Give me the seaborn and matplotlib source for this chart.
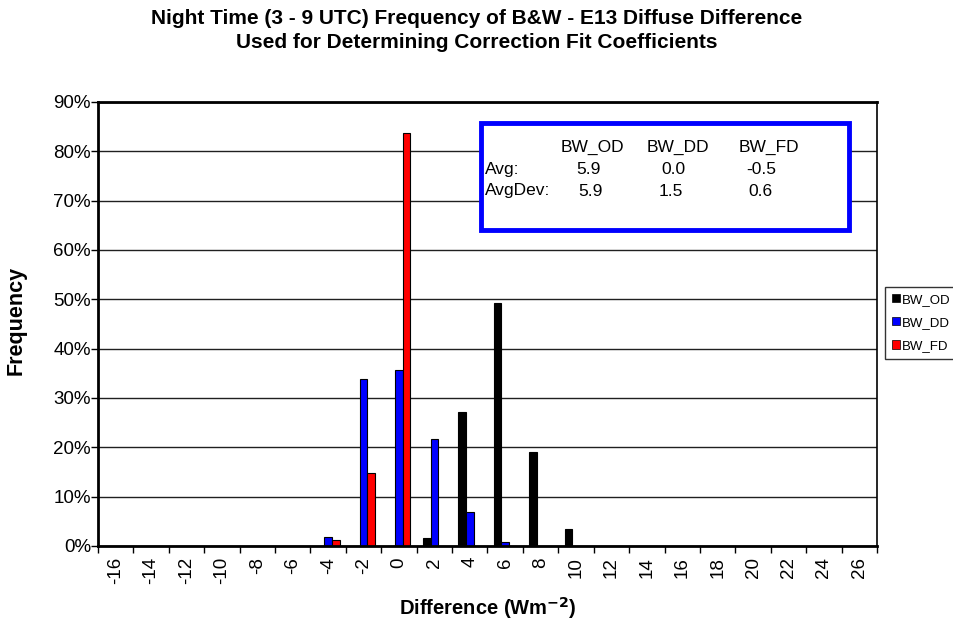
import matplotlib
matplotlib.use("Agg")
import matplotlib.pyplot as plt
import seaborn as sns
import pandas as pd
import numpy as np
from matplotlib.patches import Patch, Rectangle
from matplotlib.ticker import PercentFormatter, FixedLocator

categories = [str(v) for v in range(-16, 27, 2)]
bw_od = [0, 0, 0, 0, 0, 0, 0, 0, 0, 1.7, 27.1, 49.2, 19.0, 3.4, 0, 0, 0, 0, 0, 0, 0, 0]
bw_dd = [0, 0, 0, 0, 0, 0, 1.9, 33.9, 35.6, 21.6, 6.8, 0.8, 0, 0, 0, 0, 0, 0, 0, 0, 0, 0]
bw_fd = [0, 0, 0, 0, 0, 0, 1.2, 14.7, 83.8, 0, 0, 0, 0, 0, 0, 0, 0, 0, 0, 0, 0, 0]
series_names = ["BW_OD", "BW_DD", "BW_FD"]
colors = ["#000000", "#0000FF", "#FF0000"]
stats_rows = [("Avg:", "5.9", "0.0", "-0.5"), ("AvgDev:", "5.9", "1.5", "0.6")]

sns.set_theme(style="white")
plt.rcParams["font.family"] = ["Liberation Sans", "DejaVu Sans"]
for k in ["text.color", "axes.labelcolor", "xtick.color", "ytick.color"]:
    plt.rcParams[k] = "black"

df = pd.DataFrame({
    "Difference": categories * 3,
    "Frequency": bw_od + bw_dd + bw_fd,
    "Series": sum([[n] * len(categories) for n in series_names], []),
})

fig = plt.figure(figsize=(9.54, 6.30), dpi=100)
ax = fig.add_axes([98 / 954, 1 - 546 / 630, (877 - 98) / 954, (546 - 102) / 630])

sns.barplot(data=df, x="Difference", y="Frequency", hue="Series", order=categories,
            hue_order=series_names, palette=colors, width=0.65, edgecolor="black",
            linewidth=0.8, ax=ax, legend=False, saturation=1)

ax.set_xlim(-0.5, len(categories) - 0.5)
ax.set_ylim(0, 90)
ax.yaxis.set_major_locator(FixedLocator(np.arange(0, 91, 10)))
ax.yaxis.set_major_formatter(PercentFormatter(decimals=0))
ax.grid(axis="y", color="#202020", linewidth=1)
ax.set_axisbelow(True)
for s in ax.spines.values():
    s.set_color("black")
    s.set_linewidth(1.2)
ax.spines["bottom"].set_linewidth(2)
ax.spines["left"].set_linewidth(2)
ax.spines["top"].set_linewidth(2)

ax.set_xticks(range(len(categories)))
ax.set_xticklabels(categories, rotation=90, fontsize=13.5)
ax.tick_params(axis="x", which="major", length=0, pad=8)
ax.set_xticks(np.arange(-0.5, len(categories), 1), minor=True)
ax.tick_params(axis="x", which="minor", length=5, width=1, color="black", direction="out", bottom=True)
ax.tick_params(axis="y", length=5, width=1, color="black", direction="out", left=True,
               labelsize=13.5, pad=0)

ax.set_xlabel("Difference (Wm$^{\\mathbf{-2}}$)", fontsize=14.5, fontweight="bold", labelpad=8)
ax.set_ylabel("Frequency", fontsize=15.5, fontweight="bold")
ax.yaxis.set_label_coords((27 - 98) / 779, (546 - 320) / 444)

fig.text(0.5, 1 - 18 / 630, "Night Time (3 - 9 UTC) Frequency of B&W - E13 Diffuse Difference",
         ha="center", va="center", fontsize=15, fontweight="bold")
fig.text(0.5, 1 - 43 / 630, "Used for Determining Correction Fit Coefficients",
         ha="center", va="center", fontsize=15, fontweight="bold")

# stats box
fig.patches.append(Rectangle((481 / 954, 1 - 230 / 630), (849 - 481) / 954, (230 - 123) / 630,
                             transform=fig.transFigure, facecolor="white", edgecolor="#0000FF",
                             linewidth=3.5, zorder=5))
col_x = [561, 647, 739]
for name, x in zip(series_names, col_x):
    fig.text(x / 954, 1 - 147 / 630, name, ha="left", va="center", fontsize=12.5, zorder=6)
row_y = [170, 191]
val_x = [[576, 661, 746], [578, 659, 748]]
for (lab, *vals), y, xs in zip(stats_rows, row_y, val_x):
    fig.text(485 / 954, 1 - y / 630, lab, ha="left", va="center", fontsize=12.5, zorder=6)
    for v, x in zip(vals, xs):
        fig.text(x / 954, 1 - y / 630, v, ha="left", va="center", fontsize=12.5, zorder=6)

handles = [Patch(facecolor=c, edgecolor="black", linewidth=0.5) for c in colors]
fig.legend(handles, series_names, loc="upper left", bbox_to_anchor=(885 / 954, 1 - 287 / 630),
           frameon=True, fancybox=False, edgecolor="black", fontsize=9.5,
           handlelength=0.6, handleheight=0.6, handletextpad=0.2, borderpad=0.5,
           labelspacing=0.85, borderaxespad=0)

fig.savefig("out.png", dpi=100)
